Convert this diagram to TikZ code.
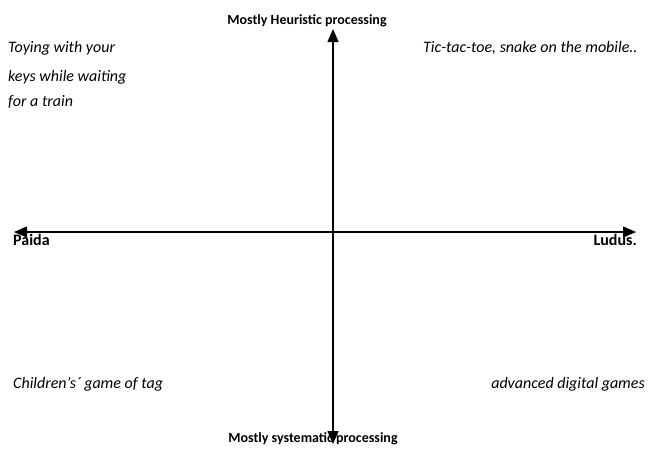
\documentclass[tikz,border=0pt]{standalone}
\usepackage{fontspec}
\setmainfont{Carlito}
\usetikzlibrary{arrows.meta}
\begin{document}
\begin{tikzpicture}[x=1pt,y=-1pt,
  axis/.style={line width=1.4pt, {Triangle[length=13pt,width=11pt]}-{Triangle[length=13pt,width=11pt]}},
  bold/.style={font=\fontsize{14}{16}\selectfont\bfseries, inner sep=0pt},
  endlabel/.style={font=\fontsize{16}{18}\selectfont\bfseries, inner sep=0pt},
  ital/.style={font=\fontsize{16}{20}\selectfont\itshape, inner sep=0pt, align=left}]
\useasboundingbox (0,0) rectangle (648,448);
\fill[white] (0,0) rectangle (648,448);
\coordinate (top) at (333,29);
\coordinate (bot) at (333,444);
\coordinate (left) at (14,232);
\coordinate (right) at (636,232);
\node[bold, anchor=base] (heur) at (307,24) {Mostly Heuristic processing};
\node[bold, anchor=base] (syst) at (313,442) {Mostly systematic processing};
\node[endlabel, anchor=base west] (paida) at (13,245) {Paida};
\node[endlabel, anchor=base east] (ludus) at (637,245) {Ludus.};
\node[ital, anchor=base west] (toy) at (8,52) {Toying with your};
\node[ital, anchor=base west] (keys) at (8,81) {keys while waiting};
\node[ital, anchor=base west] (train) at (8,106) {for a train};
\node[ital, anchor=base west] (tic) at (423,52) {Tic-tac-toe, snake on the mobile..};
\node[ital, anchor=base west] (tag) at (13,388) {Children’s´ game of tag};
\node[ital, anchor=base east] (adv) at (645,388) {advanced digital games};
\draw[axis] (left) -- (right);
\draw[axis] (bot) -- (top);
\end{tikzpicture}
\end{document}
